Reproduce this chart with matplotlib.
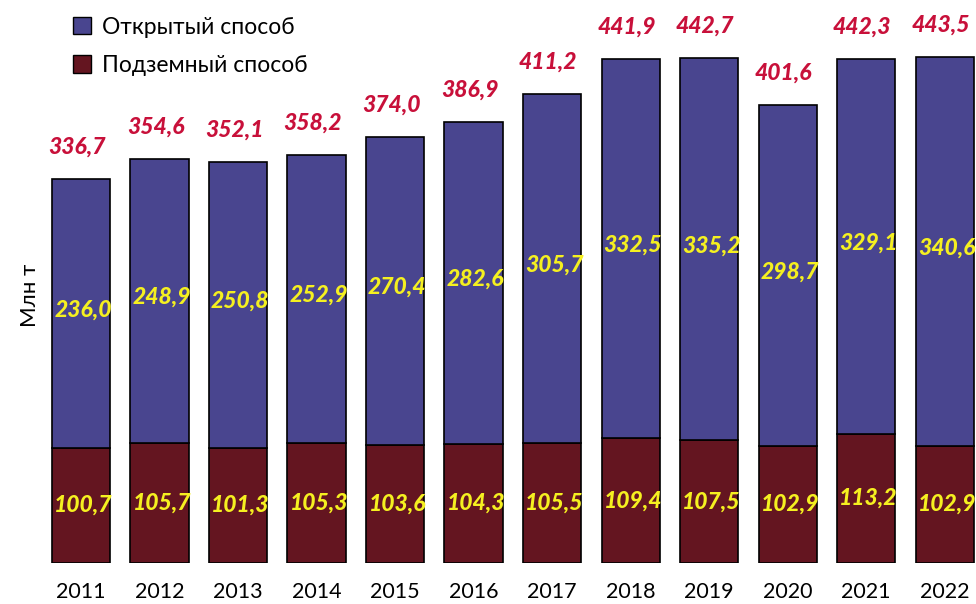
import matplotlib.pyplot as plt
from matplotlib.patches import Patch
import numpy as np

plt.rcParams['font.family'] = ['Lato', 'DejaVu Sans']

years = ['2011', '2012', '2013', '2014', '2015', '2016', '2017', '2018', '2019', '2020', '2021', '2022']
open_pit = [236.0, 248.9, 250.8, 252.9, 270.4, 282.6, 305.7, 332.5, 335.2, 298.7, 329.1, 340.6]
underground = [100.7, 105.7, 101.3, 105.3, 103.6, 104.3, 105.5, 109.4, 107.5, 102.9, 113.2, 102.9]
totals = [336.7, 354.6, 352.1, 358.2, 374.0, 386.9, 411.2, 441.9, 442.7, 401.6, 442.3, 443.5]

BLUE = '#49458F'
DARK_RED = '#641520'
LABEL_RED = '#C8103A'
LABEL_YELLOW = '#F5F020'

def fmt(v):
    return f'{v:.1f}'.replace('.', ',')

W, H = 976, 604
fig = plt.figure(figsize=(W / 100, H / 100), dpi=100)
ax = fig.add_axes([40 / W, (H - 563) / H, 936 / W, 563 / H])

x = np.arange(len(years))
ax.bar(x, underground, width=0.74, color=DARK_RED, edgecolor='black', linewidth=1.2)
ax.bar(x, open_pit, width=0.74, bottom=underground, color=BLUE, edgecolor='black', linewidth=1.2)

lbl = dict(ha='center', va='center', fontsize=16.5, fontweight='black', fontstyle='italic')
for i in range(len(years)):
    ax.text(x[i] + 0.03, underground[i] / 2, fmt(underground[i]), color=LABEL_YELLOW, **lbl)
    ax.text(x[i] + 0.03, underground[i] + open_pit[i] / 2 + 3, fmt(open_pit[i]), color=LABEL_YELLOW, **lbl)
    ax.text(x[i] - 0.05, totals[i] + 28, fmt(totals[i]), color=LABEL_RED, **lbl)

ax.set_xlim(-0.522, 11.40)
ax.set_ylim(0, 563 / 1.14)
ax.set_xticks(x)
ax.set_xticklabels(years, fontsize=15.5)
ax.tick_params(axis='x', length=0, pad=14)
ax.set_yticks([])
for s in ax.spines.values():
    s.set_visible(False)

fig.text(30 / W, 1 - 295 / H, 'Млн т', rotation=90, ha='center', va='center', fontsize=16)

handles = [Patch(facecolor=BLUE, edgecolor='black', label='Открытый способ'),
           Patch(facecolor=DARK_RED, edgecolor='black', label='Подземный способ')]
fig.legend(handles=handles, loc='upper left', bbox_to_anchor=(52 / W, 1 + 4 / H),
           frameon=False, fontsize=16.5, handlelength=0.8, handleheight=0.8,
           handletextpad=0.5, labelspacing=0.75)

fig.savefig('out.png', dpi=100)
